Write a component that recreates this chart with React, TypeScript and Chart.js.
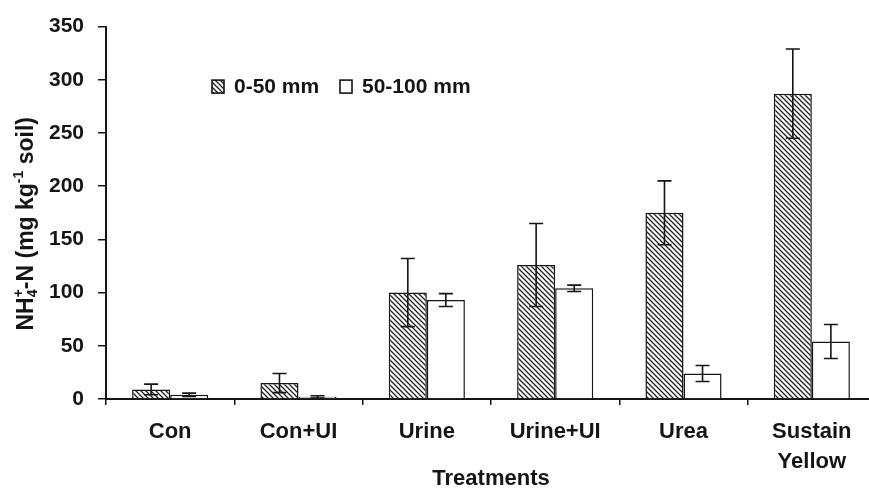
import { useEffect, useRef } from 'react';
import { Chart, registerables } from 'chart.js';

Chart.register(...registerables);

// Treatments along the x axis
const treatments: (string | string[])[] = ['Con', 'Con+UI', 'Urine', 'Urine+UI', 'Urea', ['Sustain', 'Yellow']];
const depthLabels = ['0-50 mm', '50-100 mm'];

// NH4+-N (mg kg-1 soil), means and standard errors per depth
const shallow = [9, 15, 100, 126, 175, 287];
const shallowErr = [5, 9, 32, 39, 30, 42];
const deep = [4, 2, 93, 104, 24, 54];
const deepErr = [1.5, 1, 6, 3, 7.5, 16];

const yMin = 0;
const yMax = 350;
const yStep = 50;

const FONT = "'Liberation Sans', Arial, sans-serif";
const INK = '#151515';

// the plot runs slightly past the right edge of the page
const CANVAS_W = 876;
const CANVAS_H = 493;

function makeHatch(): CanvasPattern | string {
  const s = 5;
  const c = document.createElement('canvas');
  c.width = s;
  c.height = s;
  const g = c.getContext('2d');
  if (!g) return '#999';
  g.fillStyle = '#fff';
  g.fillRect(0, 0, s, s);
  g.strokeStyle = '#222';
  g.lineWidth = 1.3;
  g.beginPath();
  g.moveTo(-1, -1);
  g.lineTo(s + 1, s + 1);
  g.moveTo(s - 1, -1);
  g.lineTo(s + 1, 1);
  g.moveTo(-1, s - 1);
  g.lineTo(1, s + 1);
  g.stroke();
  return g.createPattern(c, 'repeat') || '#999';
}

const errorBars = {
  id: 'errorBars',
  afterDatasetsDraw(chart: any) {
    const ctx = chart.ctx;
    const y = chart.scales.y;
    chart.data.datasets.forEach((ds: any, i: number) => {
      const meta = chart.getDatasetMeta(i);
      meta.data.forEach((bar: any, j: number) => {
        const v = ds.data[j];
        const e = ds.errors[j];
        const top = y.getPixelForValue(v + e);
        const bot = y.getPixelForValue(Math.max(yMin, v - e));
        const hw = 7;
        ctx.save();
        ctx.strokeStyle = INK;
        ctx.lineWidth = 1.6;
        ctx.beginPath();
        ctx.moveTo(bar.x, top);
        ctx.lineTo(bar.x, bot);
        ctx.moveTo(bar.x - hw, top);
        ctx.lineTo(bar.x + hw, top);
        ctx.moveTo(bar.x - hw, bot);
        ctx.lineTo(bar.x + hw, bot);
        ctx.stroke();
        ctx.restore();
      });
    });
  },
};

// y-axis title with sub/superscripts
const yTitle = {
  id: 'yTitle',
  afterDraw(chart: any) {
    const ctx = chart.ctx;
    const area = chart.chartArea;
    const size = 23;
    const small = 14;
    const segs: { t: string; small?: boolean; dy?: number; stackNext?: boolean }[] = [
      { t: 'NH' },
      { t: '4', small: true, dy: 4, stackNext: true },
      { t: '+', small: true, dy: -10 },
      { t: '-N (mg kg' },
      { t: '-1', small: true, dy: -10 },
      { t: ' soil)' },
    ];
    ctx.save();
    const widths = segs.map((s) => {
      ctx.font = `bold ${s.small ? small : size}px ${FONT}`;
      return ctx.measureText(s.t).width;
    });
    let total = 0;
    for (let i = 0; i < segs.length; i++) {
      if (segs[i].stackNext) {
        total += Math.max(widths[i], widths[i + 1]);
        i++;
      } else total += widths[i];
    }
    ctx.translate(25, (area.top + area.bottom) / 2 + 11);
    ctx.rotate(-Math.PI / 2);
    ctx.fillStyle = INK;
    ctx.textBaseline = 'alphabetic';
    ctx.textAlign = 'left';
    let x = -total / 2;
    const base = size * 0.36;
    for (let i = 0; i < segs.length; i++) {
      const s = segs[i];
      ctx.font = `bold ${s.small ? small : size}px ${FONT}`;
      ctx.fillText(s.t, x, base + (s.dy || 0));
      if (s.stackNext) {
        const n = segs[i + 1];
        ctx.font = `bold ${small}px ${FONT}`;
        ctx.fillText(n.t, x, base + (n.dy || 0));
        x += Math.max(widths[i], widths[i + 1]);
        i++;
      } else x += widths[i];
    }
    ctx.restore();
  },
};

// legend placed inside the plot area
const insetLegend = {
  id: 'insetLegend',
  afterDraw(chart: any) {
    const ctx = chart.ctx;
    const area = chart.chartArea;
    const y = area.top + 60;
    const items = chart.data.datasets.map((ds: any, i: number) => ({
      label: depthLabels[i],
      fill: ds.backgroundColor,
    }));
    const xs = [area.left + 106, area.left + 234];
    ctx.save();
    ctx.font = `bold 21px ${FONT}`;
    ctx.textBaseline = 'middle';
    ctx.textAlign = 'left';
    items.forEach((it: any, i: number) => {
      const bx = xs[i];
      ctx.fillStyle = it.fill;
      ctx.fillRect(bx, y - 6.5, 12, 13);
      ctx.strokeStyle = INK;
      ctx.lineWidth = 1.6;
      ctx.strokeRect(bx, y - 6.5, 12, 13);
      ctx.fillStyle = INK;
      ctx.fillText(it.label, bx + 22, y + 1);
    });
    ctx.restore();
  },
};

export default function App() {
  const ref = useRef<HTMLCanvasElement | null>(null);

  useEffect(() => {
    const canvas = ref.current;
    if (!canvas) return;
    const hatch = makeHatch();
    const chart = new Chart(canvas, {
      type: 'bar',
      data: {
        labels: treatments as any,
        datasets: [
          {
            label: depthLabels[0],
            data: shallow,
            errors: shallowErr,
            backgroundColor: hatch as any,
            borderColor: INK,
            borderWidth: 1.5,
            categoryPercentage: 0.593,
            barPercentage: 1,
          } as any,
          {
            label: depthLabels[1],
            data: deep,
            errors: deepErr,
            backgroundColor: '#ffffff',
            borderColor: INK,
            borderWidth: 1.5,
            categoryPercentage: 0.593,
            barPercentage: 1,
          } as any,
        ],
      },
      options: {
        responsive: false,
        animation: false,
        layout: { padding: { top: 16, left: 0, right: 0, bottom: 0 } },
        plugins: {
          legend: { display: false },
          tooltip: { enabled: false },
        },
        scales: {
          x: {
            offset: true,
            grid: {
              offset: true,
              drawOnChartArea: false,
              drawTicks: true,
              tickLength: 6,
              color: INK,
              lineWidth: 1.5,
            },
            border: { color: INK, width: 2 },
            ticks: {
              color: INK,
              padding: 12,
              maxRotation: 0,
              autoSkip: false,
              font: { family: FONT, size: 22, weight: 'bold', lineHeight: 1.35 },
            },
            title: {
              display: true,
              text: 'Treatments',
              color: INK,
              font: { family: FONT, size: 22, weight: 'bold' },
              padding: { top: 0, bottom: 1 },
            },
            afterFit: (s: any) => {
              s.height = 94;
            },
          },
          y: {
            min: yMin,
            max: yMax,
            ticks: {
              stepSize: yStep,
              color: INK,
              padding: 14,
              font: { family: FONT, size: 21, weight: 'bold' },
            },
            grid: {
              drawOnChartArea: false,
              drawTicks: true,
              tickLength: 8,
              color: INK,
              lineWidth: 1.5,
            },
            border: { color: INK, width: 2 },
            afterFit: (s: any) => {
              s.width = 106;
            },
          },
        },
      } as any,
      plugins: [errorBars, yTitle, insetLegend],
    });
    return () => chart.destroy();
  }, []);

  return (
    <div
      style={{
        position: 'fixed',
        left: 0,
        top: 0,
        width: 869,
        height: 493,
        overflow: 'hidden',
        background: '#fff',
      }}
    >
      <canvas ref={ref} width={CANVAS_W} height={CANVAS_H} style={{ display: 'block' }} />
    </div>
  );
}
